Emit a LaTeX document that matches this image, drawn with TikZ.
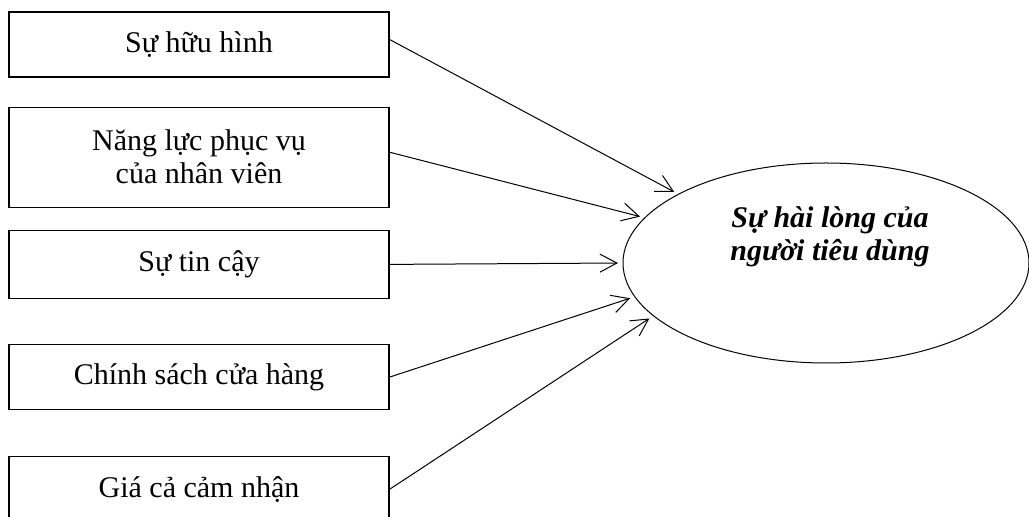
\documentclass[tikz,border=0pt]{standalone}
\usepackage{fontspec}
\setmainfont{Liberation Serif}
\usetikzlibrary{positioning,shapes.geometric,arrows.meta}

\begin{document}
\begin{tikzpicture}[x=0.5pt,y=-0.5pt,
	factor/.style={draw, line width=0.6pt, minimum width=190pt, inner sep=0pt, align=center, font=\fontsize{15}{16.5}\selectfont},
	outcome/.style={draw, ellipse, line width=0.5pt, minimum width=203pt, minimum height=100pt, inner sep=0pt, outer sep=0pt},
	link/.style={-{Straight Barb[length=8.5pt,width=9pt]}, line width=0.5pt, shorten >=2.5pt}]

			\useasboundingbox (0,0) rectangle (1029,517);

			\node[factor, minimum height=32.5pt] (huuHinh) at (199,44.5) {Sự hữu hình};
			\node[factor, minimum height=50pt, below=14.5pt of huuHinh] (nangLuc) {Năng lực phục vụ\\của nhân viên};
			\node[factor, minimum height=34pt, below=11pt of nangLuc] (tinCay) {Sự tin cậy};
			\node[factor, minimum height=32.5pt, below=22.5pt of tinCay] (chinhSach) {Chính sách cửa hàng};
			\node[factor, minimum height=32.5pt, below=23pt of chinhSach] (giaCa) {Giá cả cảm nhận};

			\node[outcome] (haiLong) at (826,263) {};
			\node[align=center, font=\fontsize{15}{16.5}\selectfont\bfseries\itshape] (haiLongText) at (830,237) {Sự hài lòng của\\người tiêu dùng};

			\draw[link] ([yshift=2.5pt]huuHinh.east) -- (haiLong.155);
			\draw[link] ([yshift=2.5pt]nangLuc.east) -- (haiLong.166);
			\draw[link] (tinCay.east) -- (haiLong.180);
			\draw[link] (chinhSach.east) -- (haiLong.190);
			\draw[link] (giaCa.east) -- (haiLong.197);
		\end{tikzpicture}
\end{document}
